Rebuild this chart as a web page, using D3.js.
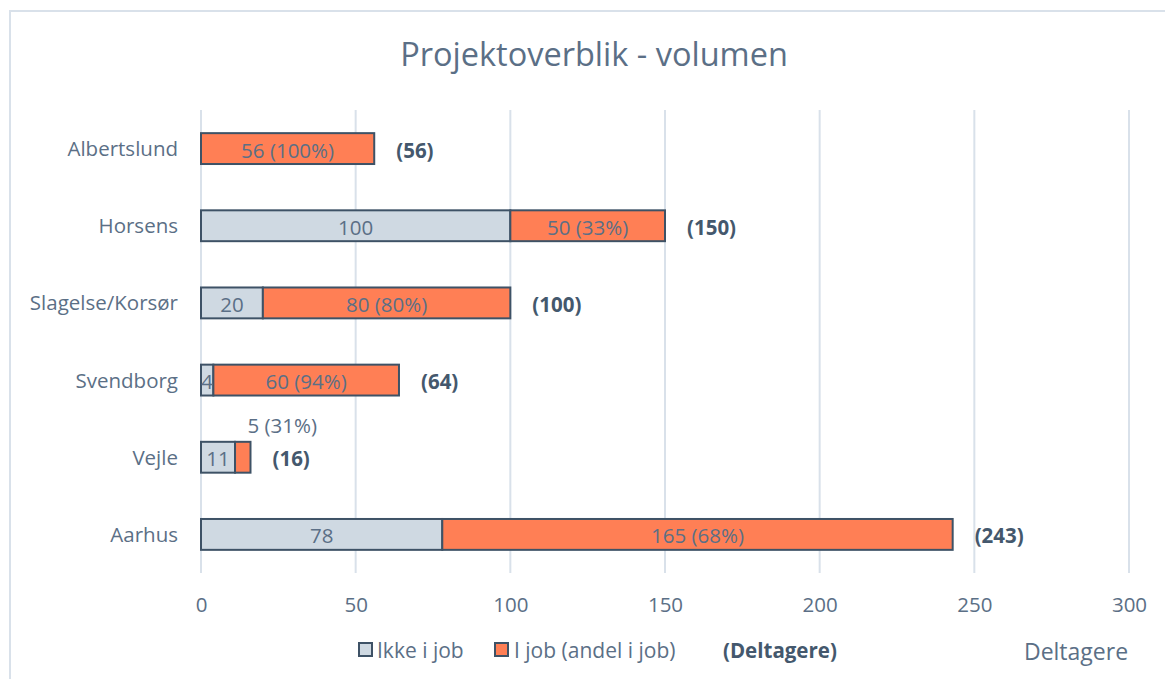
<!DOCTYPE html>
<html>
<head>
<meta charset="utf-8">
<script src="https://cdn.jsdelivr.net/npm/d3@7"></script>
<style>
  body { margin: 0; background: #fff; }
  svg { display: block; font-family: 'Open Sans', sans-serif; }
</style>
</head>
<body>
<div id="chart"></div>
<script>
// data
var categories = ['Albertslund', 'Horsens', 'Slagelse/Korsør', 'Svendborg', 'Vejle', 'Aarhus'];
var ikkeIJob = [0, 100, 20, 4, 11, 78];
var iJob = [56, 50, 80, 60, 5, 165];
var andelLabels = ['56 (100%)', '50 (33%)', '80 (80%)', '60 (94%)', '5 (31%)', '165 (68%)'];
var totalLabels = ['(56)', '(150)', '(100)', '(64)', '(16)', '(243)'];
var xTicks = [0, 50, 100, 150, 200, 250, 300];

var width = 1165, height = 679;
var textColor = '#5b6f86';
var boldColor = '#44586d';
var edgeColor = '#3e5266';
var grayFill = '#cfd9e2';
var orangeFill = '#ff7f55';
var fontSize = '20.5px';

var svg = d3.select('#chart').append('svg')
    .attr('width', width)
    .attr('height', height);

// outer frame
svg.append('path')
    .attr('d', 'M10,' + height + ' V11 H' + width)
    .attr('fill', 'none')
    .attr('stroke', '#d9e1ea')
    .attr('stroke-width', 2);

svg.append('text')
    .attr('x', 594)
    .attr('y', 66)
    .attr('text-anchor', 'middle')
    .attr('fill', textColor)
    .style('font-size', '32.5px')
    .text('Projektoverblik - volumen');

var x = d3.scaleLinear().domain([0, 300]).range([201, 1129]);
var y = d3.scaleBand().domain(categories).range([110, 573]).paddingInner(0.6).paddingOuter(0.3);

// gridlines
svg.append('g').selectAll('line')
    .data(xTicks)
    .enter().append('line')
    .attr('x1', function (d) { return x(d); })
    .attr('x2', function (d) { return x(d); })
    .attr('y1', 110)
    .attr('y2', 573)
    .attr('stroke', '#d9e1ea')
    .attr('stroke-width', 2);

// x axis tick labels
var xAxis = svg.append('g')
    .attr('transform', 'translate(0,573)')
    .call(d3.axisBottom(x).tickValues(xTicks).tickSize(0).tickPadding(24));
xAxis.select('.domain').remove();
xAxis.selectAll('text')
    .attr('fill', textColor)
    .style('font-size', fontSize)
    .style('font-family', "'Open Sans', sans-serif");

// y axis labels
var yAxis = svg.append('g')
    .attr('transform', 'translate(178,1)')
    .call(d3.axisLeft(y).tickSize(0).tickPadding(0));
yAxis.select('.domain').remove();
yAxis.selectAll('text')
    .attr('fill', textColor)
    .style('font-size', fontSize)
    .style('font-family', "'Open Sans', sans-serif");

var rows = categories.map(function (c, i) {
    return { cat: c, a: ikkeIJob[i], b: iJob[i], andel: andelLabels[i], total: totalLabels[i] };
});

var bars = svg.append('g');

// Ikke i job
bars.selectAll('.ikke')
    .data(rows.filter(function (d) { return d.a > 0; }))
    .enter().append('rect')
    .attr('class', 'ikke')
    .attr('x', function (d) { return x(0); })
    .attr('y', function (d) { return y(d.cat); })
    .attr('width', function (d) { return x(d.a) - x(0); })
    .attr('height', y.bandwidth())
    .attr('fill', grayFill)
    .attr('stroke', edgeColor)
    .attr('stroke-width', 2);

// I job
bars.selectAll('.ijob')
    .data(rows)
    .enter().append('rect')
    .attr('class', 'ijob')
    .attr('x', function (d) { return x(d.a); })
    .attr('y', function (d) { return y(d.cat); })
    .attr('width', function (d) { return x(d.a + d.b) - x(d.a); })
    .attr('height', y.bandwidth())
    .attr('fill', orangeFill)
    .attr('stroke', edgeColor)
    .attr('stroke-width', 2);

var labelStyle = function (sel) {
    sel.attr('fill', textColor)
        .attr('dominant-baseline', 'central')
        .style('font-size', fontSize);
};

bars.selectAll('.lblA')
    .data(rows.filter(function (d) { return d.a > 0; }))
    .enter().append('text')
    .attr('x', function (d) { return (x(0) + x(d.a)) / 2; })
    .attr('y', function (d) { return y(d.cat) + y.bandwidth() / 2 + 1; })
    .attr('text-anchor', 'middle')
    .call(labelStyle)
    .text(function (d) { return d.a; });

bars.selectAll('.lblB')
    .data(rows)
    .enter().append('text')
    .attr('x', function (d) {
        // small segment: label sits above, starting near the bar end
        return d.b < 10 ? x(d.a + d.b) - 3 : (x(d.a) + x(d.a + d.b)) / 2;
    })
    .attr('y', function (d) {
        var cy = y(d.cat) + y.bandwidth() / 2 + 1;
        return d.b < 10 ? cy - 33 : cy;
    })
    .attr('text-anchor', function (d) { return d.b < 10 ? 'start' : 'middle'; })
    .call(labelStyle)
    .text(function (d) { return d.andel; });

bars.selectAll('.lblT')
    .data(rows)
    .enter().append('text')
    .attr('x', function (d) { return x(d.a + d.b) + 22; })
    .attr('y', function (d) { return y(d.cat) + y.bandwidth() / 2 + 1; })
    .attr('fill', boldColor)
    .attr('dominant-baseline', 'central')
    .style('font-size', fontSize)
    .style('font-weight', 'bold')
    .text(function (d) { return d.total; });

// legend
var legend = svg.append('g');
legend.append('rect').attr('x', 359).attr('y', 643).attr('width', 13).attr('height', 13)
    .attr('fill', grayFill).attr('stroke', edgeColor).attr('stroke-width', 2);
legend.append('text').attr('x', 377).attr('y', 650).attr('dominant-baseline', 'central')
    .attr('fill', textColor).style('font-size', '21px').text('Ikke i job');
legend.append('rect').attr('x', 495).attr('y', 643).attr('width', 13).attr('height', 13)
    .attr('fill', orangeFill).attr('stroke', edgeColor).attr('stroke-width', 2);
legend.append('text').attr('x', 514).attr('y', 650).attr('dominant-baseline', 'central')
    .attr('fill', textColor).style('font-size', '21px').text('I job (andel i job)');
legend.append('text').attr('x', 723).attr('y', 650).attr('dominant-baseline', 'central')
    .attr('fill', boldColor).style('font-size', '20.5px').style('font-weight', 'bold').text('(Deltagere)');

// axis title
svg.append('text')
    .attr('x', 1076)
    .attr('y', 651)
    .attr('text-anchor', 'middle')
    .attr('dominant-baseline', 'central')
    .attr('fill', textColor)
    .style('font-size', '23px')
    .text('Deltagere');
</script>
</body>
</html>
